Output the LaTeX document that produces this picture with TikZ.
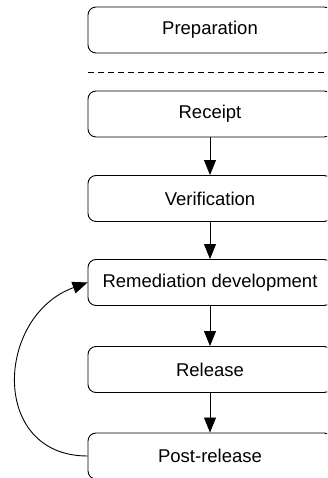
\documentclass[tikz,border=0pt]{standalone}
\usepackage{fontspec}
\setmainfont{Liberation Sans}
\usepackage{tikz}
\usetikzlibrary{arrows.meta, positioning}

\begin{document}
\begin{tikzpicture}[
    x=1pt, y=1pt,
    every node/.style={font=\fontsize{18.5}{22}\selectfont},
    phase/.style={draw, rounded corners=8pt, line width=0.9pt, minimum width=244pt, minimum height=46pt, inner sep=0pt},
    arrow/.style={-{Triangle[length=15pt, width=12pt]}, line width=0.9pt},
    divider/.style={dashed, dash pattern=on 5.5pt off 4.5pt, line width=0.9pt}
]
\useasboundingbox (0,0) rectangle (327,478);
\clip (0,0) rectangle (327,478);

% === NODES ===
\node [phase] (prep) at (210, 448) {Preparation};
\node [phase] (receipt) at (210, 364) {Receipt};
\node [phase] (verify) at (210, 279.5) {Verification};
\node [phase] (remedy) at (210, 195.5) {Remediation development};
\node [phase] (release) at (210, 108.5) {Release};
\node [phase] (post) at (210, 22) {Post-release};

% === DIVIDER ===
\coordinate (divL) at (88, 406);
\coordinate (divR) at (340, 406);
\draw[divider] (divL) -- (divR);

% === FLOW ARROWS ===
\draw[arrow] (receipt) -- (verify);
\draw[arrow] (verify) -- (remedy);
\draw[arrow] (remedy) -- (release);
\draw[arrow] (release) -- (post);

% === FEEDBACK LOOP ===
\draw[arrow] (post.west) to[out=180, in=200, looseness=1.45] (remedy.west);

\end{tikzpicture}
\end{document}
